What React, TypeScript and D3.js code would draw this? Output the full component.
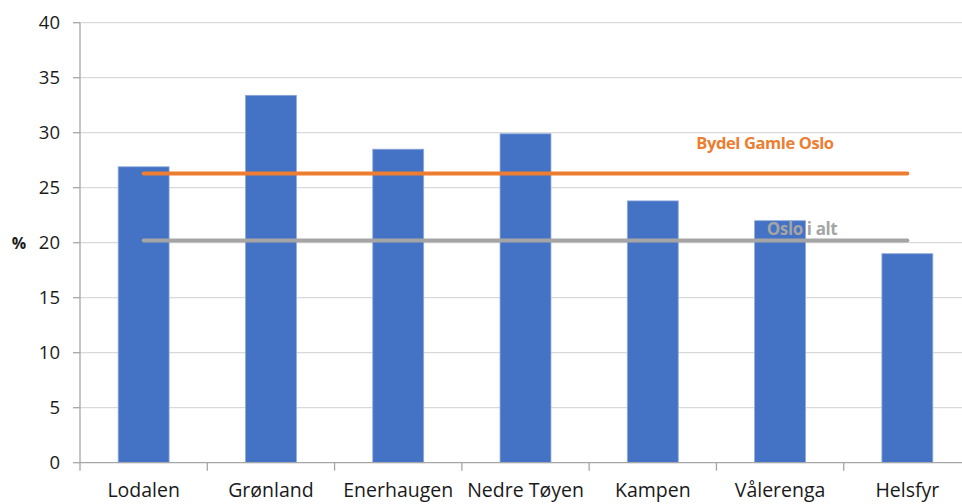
import React from 'react';
import * as d3 from 'd3';

const categories = ['Lodalen', 'Grønland', 'Enerhaugen', 'Nedre Tøyen', 'Kampen', 'Vålerenga', 'Helsfyr'];
const values = [26.9, 33.4, 28.5, 29.9, 23.8, 22.0, 19.0];
const bydelValue = 26.3;
const osloValue = 20.2;
const yTicks = [0, 5, 10, 15, 20, 25, 30, 35, 40];

const FONT = "'Open Sans', sans-serif";

const App = () => {
  const width = 962, height = 504;
  const left = 80, right = 971, top = 22.7, bottom = 462.7;

  const x = d3.scaleBand<string>().domain(categories).range([left, right]).padding(0);
  const y = d3.scaleLinear().domain([0, 40]).range([bottom, top]);

  const barW = x.bandwidth() * 0.4;
  const cx = (c: string) => (x(c) as number) + x.bandwidth() / 2;
  const x0 = cx(categories[0]);
  const x1 = cx(categories[categories.length - 1]);

  return (
    <svg width={width} height={height} style={{ position: 'absolute', left: 0, top: 0, background: '#fff' }} fontFamily={FONT}>
      {/* gridlines */}
      {yTicks.filter(t => t > 0).map(t => (
        <line key={t} x1={left} x2={width} y1={y(t)} y2={y(t)} stroke="#d9d9d9" strokeWidth={1.3} />
      ))}
      {/* y axis */}
      <line x1={left} x2={left} y1={top} y2={bottom + 8} stroke="#a6a6a6" strokeWidth={1.3} />
      {yTicks.map(t => (
        <g key={t}>
          <line x1={left - 7} x2={left} y1={y(t)} y2={y(t)} stroke="#a6a6a6" strokeWidth={1.3} />
          <text x={60} y={y(t)} dy="0.36em" textAnchor="end" fontSize={18.5} fill="#1a1a1a">{t}</text>
        </g>
      ))}
      <text x={19} y={249} textAnchor="middle" fontSize={16} fontWeight="bold" fill="#1a1a1a">%</text>

      {/* bars */}
      {categories.map((c, i) => (
        <rect key={c} x={cx(c) - barW / 2} y={y(values[i])} width={barW} height={y(0) - y(values[i])}
          fill="#4472c4" stroke="#8faadc" strokeWidth={0.8} />
      ))}

      {/* x axis */}
      <line x1={left} x2={width} y1={bottom} y2={bottom} stroke="#a6a6a6" strokeWidth={1.3} />
      {categories.slice(1).map(c => (
        <line key={c} x1={x(c) as number} x2={x(c) as number} y1={bottom} y2={bottom + 8} stroke="#a6a6a6" strokeWidth={1.3} />
      ))}
      {categories.map(c => (
        <text key={c} x={cx(c)} y={497} textAnchor="middle" fontSize={19.5} fill="#1a1a1a">{c}</text>
      ))}

      {/* reference lines */}
      <line x1={x0} x2={x1} y1={y(bydelValue)} y2={y(bydelValue)} stroke="#ed7d31" strokeWidth={4} strokeLinecap="round" />
      <line x1={x0} x2={x1} y1={y(osloValue)} y2={y(osloValue)} stroke="#a5a5a5" strokeWidth={4} strokeLinecap="round" />
      <text x={765} y={149} textAnchor="middle" fontSize={16.5} fontWeight="bold" fill="#ed7d31" letterSpacing={-0.4}>Bydel Gamle Oslo</text>
      <text x={802} y={235} textAnchor="middle" fontSize={17} fontWeight="bold" fill="#a5a5a5" letterSpacing={-0.4}>Oslo i alt</text>
    </svg>
  );
};

export default App;
